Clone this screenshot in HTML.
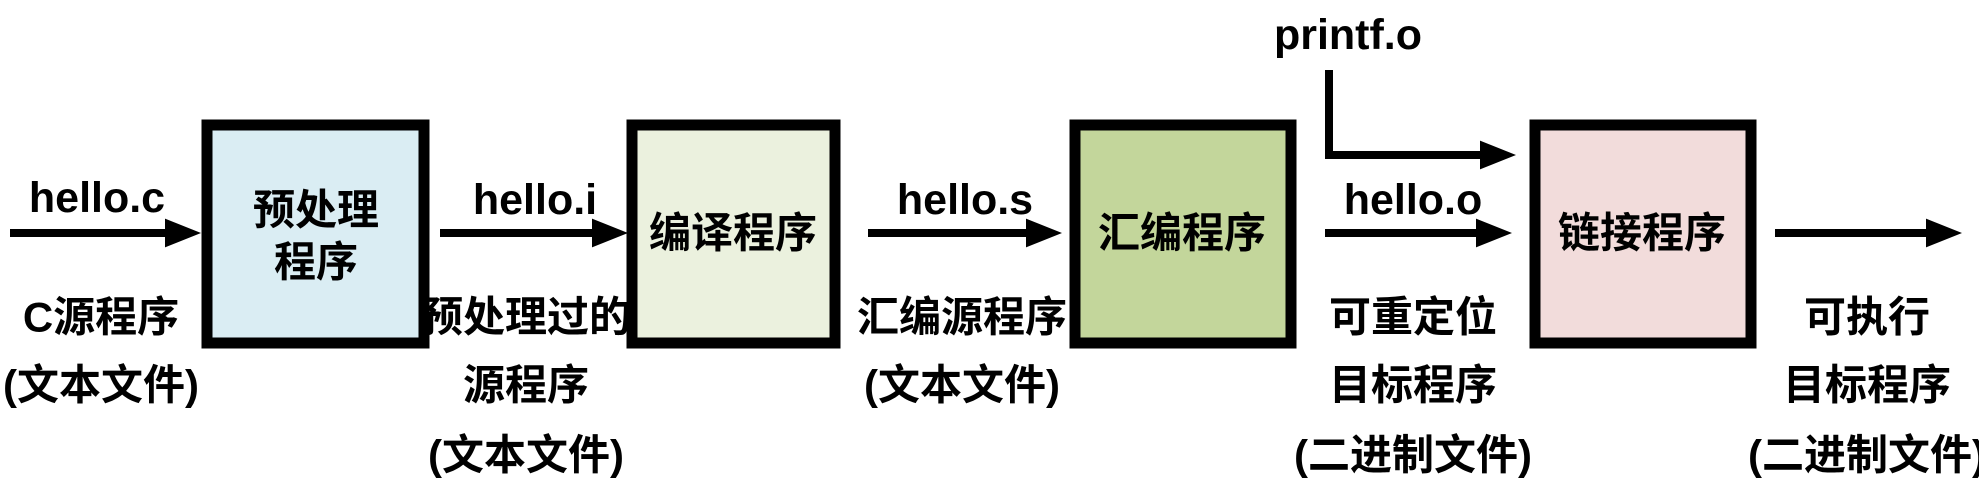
<!DOCTYPE html>
<html><head><meta charset="utf-8"><style>
html,body{margin:0;padding:0;background:#fff;}
svg{display:block;}
text{font-family:"Liberation Sans","Noto Sans CJK SC",sans-serif;font-weight:bold;fill:#000;}
</style></head><body>
<svg width="1979" height="478" viewBox="0 0 1979 478" xmlns="http://www.w3.org/2000/svg">
<defs>
<marker id="ah" markerWidth="4.5" markerHeight="3.6" refX="0" refY="1.8" orient="auto" markerUnits="strokeWidth">
<path d="M0,0 L4.5,1.8 L0,3.6 Z" fill="#000"/>
</marker>
</defs>
<g stroke="#000" stroke-width="8" fill="none">
<line x1="10" y1="233" x2="165" y2="233" marker-end="url(#ah)"/>
<line x1="440" y1="233" x2="592" y2="233" marker-end="url(#ah)"/>
<line x1="868" y1="233" x2="1026" y2="233" marker-end="url(#ah)"/>
<line x1="1325" y1="233" x2="1476" y2="233" marker-end="url(#ah)"/>
<polyline points="1329,70 1329,155 1480,155" marker-end="url(#ah)"/>
<line x1="1775" y1="233" x2="1926" y2="233" marker-end="url(#ah)"/>
</g>
<g stroke="#000" stroke-width="11">
<rect x="207" y="125" width="217" height="218" fill="#daedf3"/>
<rect x="632" y="125" width="203" height="218" fill="#ebf1de"/>
<rect x="1075" y="125" width="216" height="218" fill="#c3d69b"/>
<rect x="1535" y="125" width="216" height="218" fill="#f2dcdb"/>
</g>
<g text-anchor="middle" dominant-baseline="central" font-size="43">
<text x="97" y="198">hello.c</text>
<text x="535" y="200">hello.i</text>
<text x="965" y="200">hello.s</text>
<text x="1413" y="200">hello.o</text>
<text x="1348" y="35">printf.o</text>
</g>
<g text-anchor="middle" dominant-baseline="central" font-size="42">
<text x="316" y="210">预处理</text>
<text x="316" y="262">程序</text>
<text x="733" y="233">编译程序</text>
<text x="1182" y="233">汇编程序</text>
<text x="1642" y="233">链接程序</text>
<text x="101" y="317">C源程序</text>
<text x="101" y="385">(文本文件)</text>
<text x="526" y="317">预处理过的</text>
<text x="526" y="385">源程序</text>
<text x="526" y="455">(文本文件)</text>
<text x="962" y="317">汇编源程序</text>
<text x="962" y="385">(文本文件)</text>
<text x="1413" y="317">可重定位</text>
<text x="1413" y="385">目标程序</text>
<text x="1413" y="455">(二进制文件)</text>
<text x="1867" y="317">可执行</text>
<text x="1867" y="385">目标程序</text>
<text x="1867" y="455">(二进制文件)</text>
</g>
</svg>
</body></html>
